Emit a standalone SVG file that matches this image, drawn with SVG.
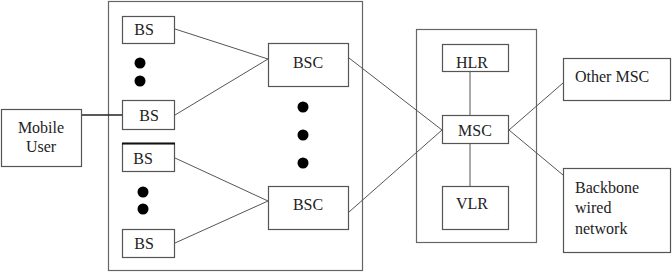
<svg xmlns="http://www.w3.org/2000/svg" width="672" height="272" viewBox="0 0 672 272" font-family="'Liberation Serif', 'Times New Roman', 'DejaVu Serif', serif">
<style>
.box{fill:#fff;stroke:#555;stroke-width:1.2}
.frame{fill:none;stroke:#666;stroke-width:1.2}
.ln{stroke:#555;stroke-width:1;fill:none}
.dark{stroke:#222;stroke-width:1.3}
text{font-family:'Liberation Serif','Times New Roman','DejaVu Serif',serif;font-size:16px;fill:#222}
.c{text-anchor:middle}
.dot{fill:#000}
</style>
<rect width="672" height="272" fill="#fff"/>
<rect id="bss" class="frame" x="108.5" y="1.5" width="254" height="269"/>
<rect id="core" class="frame" x="416.5" y="29.5" width="120" height="213"/>
<g id="connectors">
<line class="ln dark" x1="82" y1="115" x2="122" y2="115"/>
<line class="ln" x1="175" y1="29" x2="268" y2="59"/>
<line class="ln" x1="175" y1="115" x2="268" y2="59"/>
<line class="ln" x1="175" y1="158" x2="268" y2="201"/>
<line class="ln" x1="175" y1="243" x2="268" y2="201"/>
<line class="ln" x1="349" y1="58" x2="442" y2="130"/>
<line class="ln" x1="349" y1="212" x2="442" y2="130"/>
<line class="ln" x1="470" y1="72" x2="470" y2="115"/>
<line class="ln" x1="470" y1="143" x2="470" y2="186"/>
<line class="ln" x1="509" y1="130" x2="563" y2="83"/>
<line class="ln" x1="509" y1="130" x2="563" y2="175"/>
</g>
<g id="mobile"><rect class="box" x="1.5" y="109.5" width="80" height="57"/><text class="c" x="41" y="133">Mobile</text><text class="c" x="41" y="152">User</text></g>
<g id="bs1"><rect class="box" x="122.5" y="16.5" width="52" height="27"/><text class="c" x="144" y="35">BS</text></g>
<g id="bs2"><rect class="box" x="122.5" y="100.5" width="52" height="29"/><text class="c" x="149" y="121">BS</text></g>
<g id="bs3"><rect class="box" x="122.5" y="143.5" width="52" height="28"/><line x1="122" y1="143.5" x2="175" y2="143.5" stroke="#111" stroke-width="1.8"/><text class="c" x="143" y="164">BS</text></g>
<g id="bs4"><rect class="box" x="122.5" y="229.5" width="52" height="28"/><text class="c" x="144" y="249">BS</text></g>
<g id="dots">
<circle class="dot" cx="140" cy="63" r="5.5"/>
<circle class="dot" cx="140" cy="81" r="5.5"/>
<circle class="dot" cx="143" cy="192" r="5.5"/>
<circle class="dot" cx="143" cy="209" r="5.5"/>
<circle class="dot" cx="303" cy="107" r="5.5"/>
<circle class="dot" cx="303" cy="135" r="5.5"/>
<circle class="dot" cx="303" cy="163" r="5.5"/>
</g>
<g id="bsc1"><rect class="box" x="268.5" y="43.5" width="80" height="43"/><text class="c" x="308" y="68">BSC</text></g>
<g id="bsc2"><rect class="box" x="268.5" y="186.5" width="80" height="43"/><text class="c" x="308" y="210">BSC</text></g>
<g id="hlr"><rect class="box" x="442.5" y="44.5" width="66" height="27"/><text class="c" x="472" y="68">HLR</text></g>
<g id="msc"><rect class="box" x="442.5" y="115.5" width="66" height="28"/><text class="c" x="475" y="136">MSC</text></g>
<g id="vlr"><rect class="box" x="442.5" y="186.5" width="66" height="43"/><text class="c" x="472" y="209">VLR</text></g>
<g id="other"><rect class="box" x="563.5" y="58.5" width="107" height="42"/><text x="575" y="82">Other MSC</text></g>
<g id="backbone"><rect class="box" x="563.5" y="168.5" width="107" height="84"/><text x="575" y="193">Backbone</text><text x="575" y="213">wired</text><text x="575" y="234">network</text></g>
</svg>
